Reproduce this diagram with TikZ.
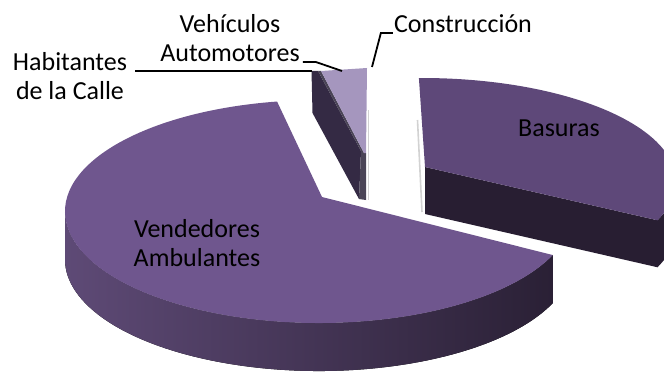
\documentclass[tikz,border=0pt]{standalone}
\usepackage{fontspec}
\setmainfont{Carlito}
\usetikzlibrary{calc}
\definecolor{vendtop}{HTML}{6F568E}
\definecolor{vendsidel}{HTML}{5E4A76}
\definecolor{vendsidem}{HTML}{45365A}
\definecolor{vendsider}{HTML}{2A2035}
\definecolor{bastop}{HTML}{5E4879}
\definecolor{basside}{HTML}{281E32}
\definecolor{habface}{HTML}{342A44}
\definecolor{vehside}{HTML}{4A4456}
\definecolor{vehtop}{HTML}{A596BE}
\tikzstyle{every node}=[inner sep=0pt,anchor=south,align=center,text=black,
  font=\fontsize{26}{29}\selectfont]
\tikzstyle{leader}=[draw=black,line width=1.8pt]
\tikzstyle{shade line}=[gray!35,line width=1.6pt]

\begin{document}
\begin{tikzpicture}[x=1pt,y=1pt]
  \clip (0,0) rectangle (664,373);
  % small slices
  \fill[habface] (311.5,302) -- (318,302) -- (361,222) -- (359,174) -- (312.5,260) -- cycle;
  \fill[vehside] (318,302) -- (321,302) -- (364,220) -- (366,220) -- (366,173) -- (359,174) -- (361,222) -- cycle;
  \fill[vehtop] (321,302) -- (367,305) -- (366,220) -- (364,220) -- cycle;
  \draw[shade line] (368.5,263) -- (368.5,173);
  % Basuras
  \draw[shade line] (417.5,253) -- (422,161);
  \fill[basside] (425,206) -- ([shift={(422,191.5)}]-22:254 and 103.5)
    arc[start angle=-22,end angle=0,x radius=254,y radius=103.5] -- ++(0,-47)
    arc[start angle=0,end angle=-22,x radius=254,y radius=103.5] -- (425,159) -- cycle;
  \fill[bastop] (425,206) -- ([shift={(422,191.5)}]-22:254 and 103.5)
    arc[start angle=-22,end angle=90.7,x radius=254,y radius=103.5] -- cycle;
  % Vendedores Ambulantes
  \fill[left color=vendsidel,middle color=vendsidem,right color=vendsider]
    ([shift={(319,161.5)}]180:254 and 111.5)
    arc[start angle=180,end angle=337,x radius=254,y radius=111.5] -- ++(0,-48)
    arc[start angle=337,end angle=180,x radius=254,y radius=111.5] -- cycle;
  \fill[vendtop] (322,176) -- ([shift={(319,161.5)}]99.5:254 and 111.5)
    arc[start angle=99.5,end angle=337,x radius=254,y radius=111.5] -- cycle;
  % labels
  \node (ven) at (197,106) {Vendedores\\Ambulantes};
  \node (bas) at (559,236) {Basuras};
  \node (hab) at (70,273) {Habitantes\\de la Calle};
  \node (veh) at (230,311) {Vehículos\\Automotores};
  \node (con) at (463,340) {Construcción};
  \coordinate (habtip) at (312,302);
  \coordinate (vehtip) at (342,302);
  \coordinate (contip) at (372,306);
  \draw[leader] ([xshift=8pt]hab.east |- habtip) -- (habtip);
  \draw[leader] ([xshift=3pt]veh.south east) -- ++(13,0) -- (vehtip);
  \draw[leader] ([xshift=-1pt]con.south west) -- ++(-12,0) -- (contip);
\end{tikzpicture}
\end{document}
